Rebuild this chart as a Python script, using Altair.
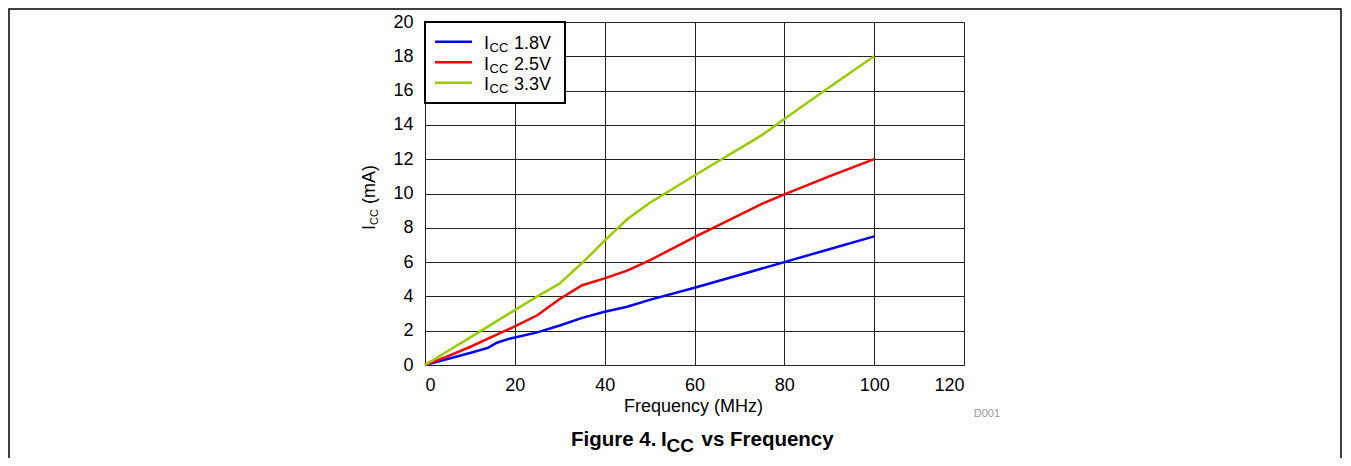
import altair as alt
import pandas as pd

# ---- data ----
freq_18 = [0, 5, 10, 14, 16, 19, 25, 30, 35, 40, 45, 50, 60, 70, 80, 90, 100]
icc_18 = [0, 0.35, 0.7, 1.0, 1.3, 1.55, 1.9, 2.3, 2.75, 3.1, 3.4, 3.8, 4.5, 5.25, 6.0, 6.75, 7.5]

freq_25 = [0, 5, 10, 15, 20, 25, 30, 35, 40, 45, 50, 60, 75, 80, 90, 100]
icc_25 = [0, 0.5, 1.05, 1.65, 2.25, 2.9, 3.85, 4.65, 5.05, 5.5, 6.1, 7.45, 9.4, 9.95, 11.0, 12.0]

freq_33 = [0, 5, 10, 15, 20, 25, 30, 35, 40, 45, 50, 60, 75, 80, 90, 100]
icc_33 = [0, 0.8, 1.6, 2.4, 3.2, 4.0, 4.75, 5.95, 7.25, 8.5, 9.45, 11.05, 13.4, 14.35, 16.2, 18.0]

series_names = ["1.8V", "2.5V", "3.3V"]
series_colors = ["#0000FF", "#FF0000", "#99CC00"]

x_ticks = [0, 20, 40, 60, 80, 100, 120]
y_ticks = [0, 2, 4, 6, 8, 10, 12, 14, 16, 18, 20]

FONT = "Liberation Sans"

rows = []
for name, fx, fy in zip(series_names, [freq_18, freq_25, freq_33], [icc_18, icc_25, icc_33]):
    for f, v in zip(fx, fy):
        rows.append({"series": name, "freq": f, "icc": v})
df = pd.DataFrame(rows)
one = pd.DataFrame({"k": [0]})

axis_common = dict(
    grid=True, gridColor="#222222", gridWidth=1, domain=False, ticks=False,
    labelFont=FONT, labelFontSize=18, labelColor="black", title="",
)

lines = alt.Chart(df).mark_line(strokeWidth=2.5).encode(
    x=alt.X("freq:Q", scale=alt.Scale(domain=[0, 120], nice=False),
            axis=alt.Axis(values=x_ticks, labelPadding=11, **axis_common)),
    y=alt.Y("icc:Q", scale=alt.Scale(domain=[0, 20], nice=False),
            axis=alt.Axis(values=y_ticks, labelPadding=12, **axis_common)),
    color=alt.Color("series:N", scale=alt.Scale(domain=series_names, range=series_colors), legend=None),
)

def txt(s, x, y, size=18, weight="normal", angle=0, align="left", color="black", baseline="alphabetic"):
    return alt.Chart(one).mark_text(
        text=s, font=FONT, fontSize=size, fontWeight=weight, angle=angle,
        align=align, baseline=baseline, color=color,
    ).encode(x=alt.value(x), y=alt.value(y))

layers = [lines]

# legend box
layers.append(
    alt.Chart(one).mark_rect(fill="white", stroke="black", strokeWidth=2).encode(
        x=alt.value(0), x2=alt.value(140), y=alt.value(0), y2=alt.value(81)
    )
)
for i, (name, col) in enumerate(zip(series_names, series_colors)):
    yl = 19.7 + i * 20.5
    yb = 27.3 + i * 20.5
    layers.append(
        alt.Chart(one).mark_rule(color=col, strokeWidth=2.5).encode(
            x=alt.value(10), x2=alt.value(47), y=alt.value(yl)
        )
    )
    layers.append(txt("I", 59, yb, 18))
    layers.append(txt("CC", 64.5, yb + 3, 13))
    layers.append(txt(name, 89, yb, 18))

# y-axis title (rotated)
layers.append(txt("I", -50, 208, 18, angle=270))
layers.append(txt("CC", -47, 203, 11, angle=270))
layers.append(txt("(mA)", -50, 182, 18, angle=270))

# x-axis title
layers.append(txt("Frequency (MHz)", 268.5, 390.3, 18, align="center"))
# D001
layers.append(txt("D001", 575, 394.7, 11, align="right", color="#999999"))

# figure caption
layers.append(txt("Figure 4.", 146, 424, 20.5, weight="bold"))
layers.append(txt("I", 236, 424, 20.5, weight="bold"))
layers.append(txt("CC", 241.5, 429.7, 19, weight="bold"))
layers.append(txt("vs Frequency", 276.5, 424, 20.5, weight="bold"))

# outer frame
layers.append(
    alt.Chart(one).mark_rect(fillOpacity=0, stroke="black", strokeWidth=1.5).encode(
        x=alt.value(-416), x2=alt.value(916), y=alt.value(-13), y2=alt.value(480)
    )
)

chart = alt.layer(*layers).properties(
    width=539, height=343,
    padding={"left": 417, "top": 14, "right": 378, "bottom": 93},
    autosize=alt.AutoSizeParams(type="none"),
).configure_view(stroke="black", strokeWidth=2).configure(background="white")

chart.save("out.html", embed_options={"renderer": "svg", "actions": False})
